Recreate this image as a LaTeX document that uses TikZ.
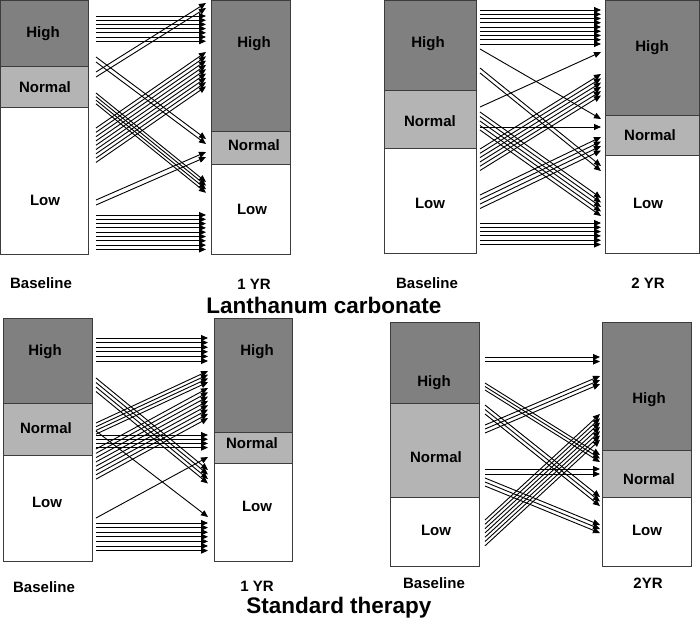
\documentclass[tikz,border=0pt]{standalone}
\usepackage{fontspec}
\setmainfont{Liberation Sans}
\usepackage{tikz}
\usetikzlibrary{arrows.meta}
\definecolor{highgray}{RGB}{128,128,128}
\definecolor{normgray}{RGB}{180,180,180}
\definecolor{edgegray}{RGB}{60,60,60}
\tikzset{
  bar/.style={draw=edgegray, line width=0.9pt},
  flow/.style={line width=0.9pt, -{Triangle[length=7pt,width=6pt]}},
  lbl/.style={font=\bfseries\fontsize{15}{15}\selectfont},
  ttl/.style={font=\bfseries\fontsize{22.5}{22.5}\selectfont},
}
% x1, y1, x2, y2, number of arrows, gap
\newcommand{\bundle}[6]{%
  \foreach \k in {1,...,#5}
    \draw[flow] (#1,{#2+(\k-1)*#6}) -- (#3,{#4+(\k-1)*#6});
}

\begin{document}
\begin{tikzpicture}[x=1pt,y=-1pt]
\useasboundingbox (0,0) rectangle (700,624);

% Lanthanum carbonate, 1 YR
\draw[bar, fill=highgray] (0.5,0.5) rectangle (88,66);
\draw[bar, fill=normgray] (0.5,66) rectangle (88,107);
\draw[bar, fill=white] (0.5,107) rectangle (88,254);
\draw[bar, fill=highgray] (211,0.5) rectangle (290,131);
\draw[bar, fill=normgray] (211,131) rectangle (290,164);
\draw[bar, fill=white] (211,164) rectangle (290,254);
\node[lbl] (ahl) at (43,34) {High};
\node[lbl] (anl) at (45,87) {Normal};
\node[lbl] (all) at (45,200) {Low};
\node[lbl] (ahr) at (254,44) {High};
\node[lbl] (anr) at (254,145) {Normal};
\node[lbl] (alr) at (252,209) {Low};
\node[lbl] (abase) at (41,283) {Baseline};
\node[lbl] (ayr) at (254,284) {1 YR};
\bundle{96}{16}{206}{16}{7}{4.2}
\bundle{96}{72}{206}{3}{2}{5}
\bundle{96}{57}{206}{139}{2}{5}
\bundle{96}{93}{206}{182}{4}{3.6}
\bundle{96}{128}{206}{52}{9}{4.3}
\bundle{96}{200}{206}{152}{2}{5}
\bundle{96}{215}{206}{215}{9}{4.3}

% Lanthanum carbonate, 2 YR
\draw[bar, fill=highgray] (384,0.5) rectangle (476,90);
\draw[bar, fill=normgray] (384,90) rectangle (476,148);
\draw[bar, fill=white] (384,148) rectangle (476,253);
\draw[bar, fill=highgray] (605,0.5) rectangle (699.5,115);
\draw[bar, fill=normgray] (605,115) rectangle (699.5,155);
\draw[bar, fill=white] (605,155) rectangle (699.5,253);
\node[lbl] (bhl) at (428,44) {High};
\node[lbl] (bnl) at (430,121) {Normal};
\node[lbl] (bll) at (430,203) {Low};
\node[lbl] (bhr) at (652,48) {High};
\node[lbl] (bnr) at (650,135) {Normal};
\node[lbl] (blr) at (648,203) {Low};
\node[lbl] (bbase) at (427,283) {Baseline};
\node[lbl] (byr) at (648,283) {2 YR};
\bundle{480}{10}{601}{10}{9}{4.25}
\bundle{480}{49}{601}{119}{1}{4}
\bundle{480}{68}{601}{166}{2}{5}
\bundle{480}{107}{601}{52}{1}{4}
\bundle{480}{127}{601}{127}{1}{4}
\bundle{480}{112}{601}{198}{5}{4.5}
\bundle{480}{149}{601}{74}{6}{4.3}
\bundle{480}{195}{601}{137}{4}{4.5}
\bundle{480}{223}{601}{223}{6}{4.3}

\node[ttl] (lanth) at (324,305) {Lanthanum carbonate};

% Standard therapy, 1 YR
\draw[bar, fill=highgray] (3,318) rectangle (92,403);
\draw[bar, fill=normgray] (3,403) rectangle (92,455);
\draw[bar, fill=white] (3,455) rectangle (92,561);
\draw[bar, fill=highgray] (214,318) rectangle (292,432);
\draw[bar, fill=normgray] (214,432) rectangle (292,463);
\draw[bar, fill=white] (214,463) rectangle (292,561);
\node[lbl] (chl) at (45,352) {High};
\node[lbl] (cnl) at (46,428) {Normal};
\node[lbl] (cll) at (47,502) {Low};
\node[lbl] (chr) at (257,352) {High};
\node[lbl] (cnr) at (252,443) {Normal};
\node[lbl] (clr) at (257,506) {Low};
\node[lbl] (cbase) at (44,587) {Baseline};
\node[lbl] (cyr) at (257,586) {1 YR};
\bundle{96}{338}{208}{338}{6}{4.6}
\bundle{96}{378}{208}{470}{4}{4.5}
\bundle{96}{423}{208}{371}{4}{3.7}
\bundle{96}{449}{208}{388}{8}{4.3}
\bundle{96}{435}{208}{435}{4}{4.2}
\bundle{96}{431}{208}{517}{1}{4}
\bundle{96}{518}{208}{457}{1}{4}
\bundle{96}{523}{208}{523}{7}{4.6}

% Standard therapy, 2YR
\draw[bar, fill=highgray] (390,322) rectangle (479,403);
\draw[bar, fill=normgray] (390,403) rectangle (479,497);
\draw[bar, fill=white] (390,497) rectangle (479,566);
\draw[bar, fill=highgray] (602,322) rectangle (691,450);
\draw[bar, fill=normgray] (602,450) rectangle (691,497);
\draw[bar, fill=white] (602,497) rectangle (691,566);
\node[lbl] (dhl) at (434,383) {High};
\node[lbl] (dnl) at (436,457) {Normal};
\node[lbl] (dll) at (436,530) {Low};
\node[lbl] (dhr) at (649,400) {High};
\node[lbl] (dnr) at (649,479) {Normal};
\node[lbl] (dlr) at (647,530) {Low};
\node[lbl] (dbase) at (434,583) {Baseline};
\node[lbl] (dyr) at (648,583) {2YR};
\bundle{485}{357}{600}{357}{2}{4.5}
\bundle{485}{383}{600}{455}{3}{3.5}
\bundle{485}{425}{600}{376}{3}{4}
\bundle{485}{405}{600}{497}{3}{4.5}
\bundle{485}{469}{600}{469}{2}{5}
\bundle{485}{478}{600}{525}{3}{4}
\bundle{485}{520}{600}{414}{7}{4.3}

\node[ttl] (stand) at (339,608) {Standard therapy};
\end{tikzpicture}
\end{document}
